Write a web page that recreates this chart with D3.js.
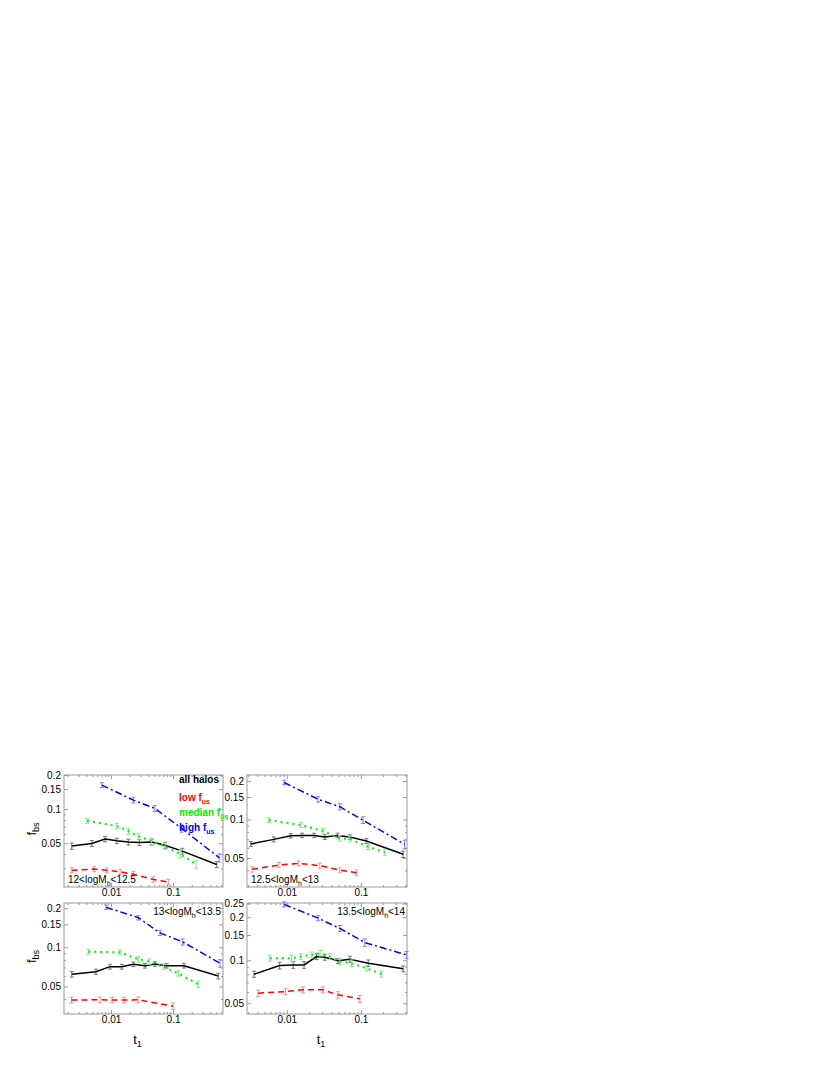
<!DOCTYPE html>
<html>
<head>
<meta charset="utf-8">
<script src="https://cdn.jsdelivr.net/npm/d3@7"></script>
<style>
body { margin: 0; background: #fff; }
svg { font-family: "Liberation Sans", Arial, sans-serif; }
.frame { fill: none; stroke: #999; stroke-width: 1; }
.axis path { display: none; }
.axis line { stroke: #999; }
.axis text { font-size: 10px; fill: #000; }
.line { fill: none; }
</style>
</head>
<body>
<svg width="830" height="1075"></svg>
<script>
// values: [t1, fbs, error]
const allA = [[0.00232,0.0471,0.003],[0.0049,0.0497,0.003],[0.008,0.0543,0.003],[0.0124,0.0524,0.003],[0.019,0.0511,0.003],[0.0286,0.0507,0.003],[0.0453,0.0511,0.003],[0.0743,0.048,0.003],[0.141,0.0425,0.0025],[0.507,0.0324,0.002]];
const lowA = [[0.00232,0.0288,0.0015],[0.0053,0.0295,0.0015],[0.0085,0.0288,0.0015],[0.014,0.0279,0.0015],[0.0229,0.0266,0.0015],[0.048,0.0239,0.0013],[0.084,0.0227,0.0013]];
const medA = [[0.0041,0.0788,0.004],[0.0124,0.0707,0.004],[0.019,0.064,0.004],[0.0276,0.0577,0.0035],[0.045,0.052,0.0035],[0.0743,0.0471,0.003],[0.13,0.040,0.003],[0.235,0.0326,0.0025]];
const highA = [[0.0071,0.163,0.008],[0.0229,0.120,0.007],[0.051,0.1014,0.006],[0.138,0.0675,0.005],[0.557,0.0371,0.003]];

const allB = [[0.00326,0.0644,0.003],[0.0067,0.070,0.003],[0.0113,0.0747,0.003],[0.0161,0.0752,0.003],[0.0234,0.0752,0.003],[0.0326,0.073,0.003],[0.0485,0.0752,0.003],[0.071,0.073,0.003],[0.119,0.068,0.003],[0.373,0.0535,0.003]];
const lowB = [[0.0034,0.0408,0.002],[0.0078,0.0441,0.002],[0.0145,0.0455,0.002],[0.0279,0.0436,0.002],[0.052,0.0403,0.002],[0.0875,0.0384,0.002]];
const medB = [[0.0057,0.099,0.004],[0.0155,0.0906,0.004],[0.0309,0.0813,0.004],[0.052,0.0713,0.0035],[0.071,0.0704,0.0035],[0.126,0.0613,0.003],[0.211,0.0555,0.003]];
const highB = [[0.0092,0.195,0.008],[0.0265,0.144,0.007],[0.052,0.126,0.007],[0.107,0.099,0.006],[0.39,0.064,0.005]];

const allC = [[0.00232,0.062,0.003],[0.0057,0.0649,0.003],[0.0096,0.071,0.003],[0.0149,0.071,0.003],[0.0229,0.074,0.003],[0.0353,0.0722,0.003],[0.0513,0.0744,0.003],[0.079,0.0722,0.003],[0.150,0.0722,0.003],[0.538,0.0601,0.003]];
const lowC = [[0.0023,0.0393,0.002],[0.0066,0.0395,0.002],[0.0104,0.0393,0.002],[0.0162,0.0393,0.002],[0.0273,0.0395,0.002],[0.1,0.0353,0.002]];
const medC = [[0.0043,0.0925,0.004],[0.014,0.0915,0.004],[0.0276,0.0809,0.004],[0.0415,0.0775,0.004],[0.0698,0.071,0.0035],[0.122,0.063,0.003],[0.256,0.0519,0.003]];
const highC = [[0.0083,0.203,0.008],[0.0276,0.169,0.007],[0.0617,0.129,0.006],[0.143,0.110,0.006],[0.573,0.0753,0.005]];

const allD = [[0.0036,0.0798,0.004],[0.008,0.0917,0.005],[0.0122,0.0927,0.005],[0.0171,0.0927,0.005],[0.0252,0.106,0.005],[0.0326,0.105,0.005],[0.0493,0.099,0.004],[0.071,0.1016,0.005],[0.126,0.0953,0.005],[0.373,0.087,0.004]];
const lowD = [[0.0041,0.0588,0.003],[0.0096,0.0603,0.003],[0.0166,0.062,0.003],[0.0309,0.062,0.003],[0.049,0.0572,0.003],[0.097,0.0536,0.003]];
const medD = [[0.0059,0.1033,0.005],[0.0116,0.1033,0.005],[0.0155,0.106,0.005],[0.0217,0.109,0.005],[0.0288,0.112,0.005],[0.038,0.106,0.005],[0.052,0.0978,0.005],[0.0748,0.0953,0.005],[0.119,0.0879,0.004],[0.19,0.080,0.004]];
const highD = [[0.0092,0.246,0.01],[0.0265,0.197,0.008],[0.052,0.167,0.008],[0.113,0.133,0.008],[0.415,0.109,0.006]];

const xTicks = [0.01, 0.1];
const yTicksLow = [0.05, 0.1, 0.15, 0.2];
const yTicksHigh = [0.05, 0.1, 0.15, 0.2, 0.25];
const legendNames = ["all halos", "low f", "median f", "high f"];
const legendSubs = ["", "us", "us", "us"];

const svg = d3.select("svg");

// series styles: all, low, median, high
const styles = [
    { color: "#000", err: "#777", width: 1.5, dash: null },
    { color: "#ff0000", err: "#ff9090", width: 1.5, dash: "6,4" },
    { color: "#00ee00", err: "#80f080", width: 2, dash: "2,4" },
    { color: "#0000ff", err: "#8080ff", width: 1.5, dash: "7,3,2,3" }
];

const panels = [
    { x0: 64, x1: 223, y0: 775, y1: 887, xd: [0.00174, 0.64], yd: [0.0205, 0.2], yt: yTicksLow,
      series: [allA, lowA, medA, highA], label: ["12<logM", "h", "<12.5"], lpos: "bl", ylab: true },
    { x0: 247, x1: 407, y0: 775, y1: 887, xd: [0.0029, 0.42], yd: [0.0297, 0.223], yt: yTicksLow,
      series: [allB, lowB, medB, highB], label: ["12.5<logM", "h", "<13"], lpos: "bl" },
    { x0: 64, x1: 223, y0: 903, y1: 1014, xd: [0.00174, 0.64], yd: [0.0307, 0.219], yt: yTicksLow,
      series: [allC, lowC, medC, highC], label: ["13<logM", "h", "<13.5"], lpos: "tr", ylab: true, xlab: true },
    { x0: 247, x1: 407, y0: 903, y1: 1014, xd: [0.0029, 0.42], yd: [0.042, 0.2516], yt: yTicksHigh,
      series: [allD, lowD, medD, highD], label: ["13.5<logM", "h", "<14"], lpos: "tr", xlab: true }
];

function subText(sel, parts, size) {
    sel.append("tspan").text(parts[0]);
    sel.append("tspan").attr("dy", 3).style("font-size", (size * 0.7) + "px").text(parts[1]);
    if (parts[2]) sel.append("tspan").attr("dy", -3).text(parts[2]);
}

panels.forEach((p, i) => {
    const x = d3.scaleLog().domain(p.xd).range([p.x0, p.x1]);
    const y = d3.scaleLog().domain(p.yd).range([p.y1, p.y0]);
    const g = svg.append("g");

    const xMinor = x.ticks().filter(t => !xTicks.some(m => Math.abs(m - t) < 1e-9));
    const yMinor = y.ticks().filter(t => !p.yt.some(m => Math.abs(m - t) < 1e-9));

    // ticks on all four sides, pointing inward
    g.append("g").attr("class", "axis").attr("transform", `translate(0,${p.y1})`)
        .call(d3.axisBottom(x).tickValues(xTicks).tickSize(-4).tickPadding(2).tickFormat(d3.format("")));
    g.append("g").attr("class", "axis").attr("transform", `translate(0,${p.y1})`)
        .call(d3.axisBottom(x).tickValues(xMinor).tickSize(-2).tickFormat(""));
    g.append("g").attr("class", "axis").attr("transform", `translate(0,${p.y0})`)
        .call(d3.axisTop(x).tickValues(xTicks).tickSize(-4).tickFormat(""));
    g.append("g").attr("class", "axis").attr("transform", `translate(0,${p.y0})`)
        .call(d3.axisTop(x).tickValues(xMinor).tickSize(-2).tickFormat(""));
    g.append("g").attr("class", "axis").attr("transform", `translate(${p.x0},0)`)
        .call(d3.axisLeft(y).tickValues(p.yt).tickSize(-4).tickPadding(3).tickFormat(d3.format("")));
    g.append("g").attr("class", "axis").attr("transform", `translate(${p.x0},0)`)
        .call(d3.axisLeft(y).tickValues(yMinor).tickSize(-2).tickFormat(""));
    g.append("g").attr("class", "axis").attr("transform", `translate(${p.x1},0)`)
        .call(d3.axisRight(y).tickValues(p.yt).tickSize(-4).tickFormat(""));
    g.append("g").attr("class", "axis").attr("transform", `translate(${p.x1},0)`)
        .call(d3.axisRight(y).tickValues(yMinor).tickSize(-2).tickFormat(""));

    g.append("rect").attr("class", "frame")
        .attr("x", p.x0).attr("y", p.y0)
        .attr("width", p.x1 - p.x0).attr("height", p.y1 - p.y0);

    const line = d3.line().x(d => x(d[0])).y(d => y(d[1]));

    p.series.forEach((s, k) => {
        const st = styles[k];
        // error bars
        const eb = g.append("g").attr("stroke", st.err).attr("stroke-width", 1);
        s.forEach(d => {
            const cx = x(d[0]), ya = y(d[1] + d[2]), yb = y(d[1] - d[2]);
            eb.append("line").attr("x1", cx).attr("x2", cx).attr("y1", ya).attr("y2", yb);
            eb.append("line").attr("x1", cx - 2).attr("x2", cx + 2).attr("y1", ya).attr("y2", ya);
            eb.append("line").attr("x1", cx - 2).attr("x2", cx + 2).attr("y1", yb).attr("y2", yb);
        });
        g.append("path").datum(s)
            .attr("class", "line")
            .attr("stroke", st.color)
            .attr("stroke-width", st.width)
            .attr("stroke-dasharray", st.dash)
            .attr("d", line);
    });

    // panel label
    const lt = g.append("text").style("font-size", "10px");
    if (p.lpos === "bl") lt.attr("x", p.x0 + 4).attr("y", p.y1 - 4);
    else lt.attr("x", p.x1 - 2).attr("y", p.y0 + 12).attr("text-anchor", "end");
    subText(lt, p.label, 10);

    if (p.ylab) {
        const yl = g.append("text")
            .attr("transform", `translate(36,${(p.y0 + p.y1) / 2 - 2}) rotate(-90)`)
            .attr("text-anchor", "middle")
            .style("font-size", "13px");
        subText(yl, ["f", "bs"], 13);
    }
    if (p.xlab) {
        const xl = g.append("text")
            .attr("x", (p.x0 + p.x1) / 2 - 6).attr("y", p.y1 + 30)
            .attr("text-anchor", "middle")
            .style("font-size", "13px");
        subText(xl, ["t", "1"], 13);
    }
});

// legend inside the first panel
const legend = svg.append("g").attr("transform", "translate(179,783)");
legendNames.forEach((n, i) => {
    const t = legend.append("text")
        .attr("x", 0).attr("y", i * 15 + (i > 0 ? 3 : 0))
        .style("font-size", "10px").style("font-weight", "bold")
        .attr("fill", styles[i].color);
    t.append("tspan").text(n);
    if (legendSubs[i]) t.append("tspan").attr("dy", 3).style("font-size", "7px").text(legendSubs[i]);
});
</script>
</body>
</html>
